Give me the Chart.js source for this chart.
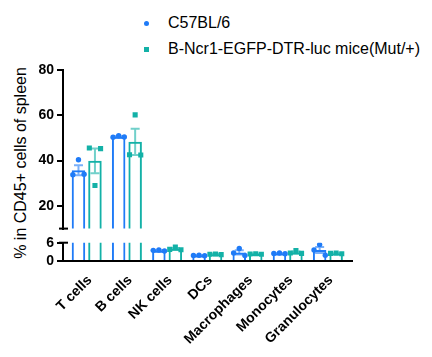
<!DOCTYPE html>
<html><head><meta charset="utf-8">
<script src="https://cdn.jsdelivr.net/npm/chart.js@4"></script>
<style>
html,body{margin:0;padding:0;background:#fff;}
body{width:432px;height:357px;position:relative;overflow:hidden;font-family:"Liberation Sans",Arial,sans-serif;color:#000;}
canvas{position:absolute;left:0;}
#top{top:0;}
#bot{top:230px;}
.txt{position:absolute;font-size:16px;line-height:16px;white-space:nowrap;}
.mk{position:absolute;width:5px;height:5px;}
#ytitle{position:absolute;left:21px;top:163px;transform:translate(-50%,-50%) rotate(-90deg);font-size:16px;line-height:16px;white-space:nowrap;}
</style>
</head><body>
<div class="mk" style="left:143.5px;top:20.5px;border-radius:50%;background:#1F7BF7"></div>
<div class="txt" style="left:168px;top:15px">C57BL/6</div>
<div class="mk" style="left:143.5px;top:46.5px;background:#13B1A7"></div>
<div class="txt" style="left:168px;top:41px">B-Ncr1-EGFP-DTR-luc mice(Mut/+)</div>
<div id="ytitle">% in CD45+ cells of spleen</div>
<canvas id="top" width="432" height="240"></canvas>
<canvas id="bot" width="432" height="127"></canvas>
<script>
const categories = ['T cells','B cells','NK cells','DCs','Macrophages','Monocytes','Granulocytes'];
const seriesNames = ['C57BL/6','B-Ncr1-EGFP-DTR-luc mice(Mut/+)'];
const c57Mean = [35.8, 50.5, 3.4, 1.8, 2.8, 2.5, 3.6];
const c57Sem  = [2.2, 0.25, 0.12, 0.06, 0.7, 0.06, 1.0];
const mutMean = [39.9, 48.3, 4.0, 2.2, 2.3, 2.8, 2.5];
const mutSem  = [5.5, 5.8, 0.3, 0.06, 0.06, 0.3, 0.06];
// individual animals: [center, left, right]
const c57Points = [[40.4,33.8,34.0],[51.0,50.3,50.4],[3.6,3.5,3.3],[1.9,1.8,1.7],[4.1,2.6,1.8],[2.6,2.5,2.4],[5.4,3.6,1.9]];
const mutPoints = [[29.0,45.6,45.3],[60.2,42.6,42.5],[4.6,3.8,3.7],[2.3,2.2,2.1],[2.4,2.3,2.2],[3.4,2.6,2.5],[2.6,2.5,2.4]];
const yTopTicks = [20,40,60,80];
const yBotTicks = [0,6];

const BLUE = '#1F7BF7', TEAL = '#13B1A7';
const BLUE_ERR = 'rgba(31,123,247,0.6)', TEAL_ERR = 'rgba(19,177,167,0.6)';
const CAT_PCT = 0.82, BAR_PCT = 0.82;
const X_MIN = -0.59, X_MAX = 6.6;
const JITTER = [0, -0.14, 0.14];
const FONT = 'Liberation Sans, Arial, sans-serif';

function barData(means){ return means.map((v,i)=>({x:i,y:v})); }
function ptData(pts, side){
  const off = side * CAT_PCT / 4;
  const out = [];
  pts.forEach((arr,i)=>arr.forEach((v,k)=>out.push({x:i+off+JITTER[k], y:v})));
  return out;
}
function datasets(){
  return [
    {type:'bar', label:seriesNames[0], data:barData(c57Mean), errors:c57Sem, errorColor:BLUE_ERR,
     backgroundColor:'rgba(255,255,255,0)', borderColor:BLUE, borderWidth:2, borderSkipped:'start',
     categoryPercentage:CAT_PCT, barPercentage:BAR_PCT, clip:0, order:2},
    {type:'bar', label:seriesNames[1], data:barData(mutMean), errors:mutSem, errorColor:TEAL_ERR,
     backgroundColor:'rgba(255,255,255,0)', borderColor:TEAL, borderWidth:2, borderSkipped:'start',
     categoryPercentage:CAT_PCT, barPercentage:BAR_PCT, clip:0, order:2},
    {type:'scatter', label:seriesNames[0]+' pts', data:ptData(c57Points,-1), pointStyle:'circle', pointRadius:2.7,
     backgroundColor:BLUE, borderWidth:0, clip:0, order:1},
    {type:'scatter', label:seriesNames[1]+' pts', data:ptData(mutPoints,1), pointStyle:'rect', pointRadius:3.6,
     backgroundColor:TEAL, borderWidth:0, clip:0, order:1}
  ];
}

const errorBars = {
  id:'errorBars',
  afterDatasetDraw(chart, args){
    const ds = chart.data.datasets[args.index];
    if(!ds.errors) return;
    const ys = chart.scales.y, a = chart.chartArea, ctx = chart.ctx;
    ctx.save();
    ctx.beginPath(); ctx.rect(a.left, a.top, a.right-a.left, a.bottom-a.top); ctx.clip();
    ctx.strokeStyle = ds.errorColor; ctx.lineWidth = 2;
    args.meta.data.forEach((el,i)=>{
      const m = ds.data[i].y, e = ds.errors[i];
      const x = el.x, yt = ys.getPixelForValue(m+e), yb = ys.getPixelForValue(m-e);
      ctx.beginPath();
      ctx.moveTo(x, yt); ctx.lineTo(x, yb);
      ctx.moveTo(x-4.5, yt); ctx.lineTo(x+4.5, yt);
      ctx.moveTo(x-4.5, yb); ctx.lineTo(x+4.5, yb);
      ctx.stroke();
    });
    ctx.restore();
  }
};
const breakCap = {
  id:'breakCap',
  afterDraw(chart, args, opts){
    const a = chart.chartArea, ctx = chart.ctx;
    const y = opts.edge === 'bottom' ? a.bottom : a.top;
    ctx.save(); ctx.strokeStyle = '#000'; ctx.lineWidth = 2;
    ctx.beginPath(); ctx.moveTo(a.left-4, y); ctx.lineTo(a.left+5, y); ctx.stroke();
    ctx.restore();
  }
};

function yScale(min, max, ticks){
  return {
    type:'linear', min, max,
    afterBuildTicks: s => { s.ticks = ticks.map(v=>({value:v})); },
    afterFit: s => { s.width = 63; },
    grid:{display:true, drawOnChartArea:false, drawTicks:true, tickLength:6, color:'#000', lineWidth:2},
    border:{display:true, color:'#000', width:2},
    ticks:{autoSkip:false, color:'#000', padding:3, font:{family:FONT, size:14, weight:'bold'}}
  };
}
const common = {
  responsive:false, animation:false,
  plugins:{legend:{display:false}, tooltip:{enabled:false}}
};

new Chart(document.getElementById('top'), {
  type:'bar',
  data:{datasets:datasets()},
  plugins:[errorBars, breakCap],
  options:Object.assign({}, common, {
    layout:{padding:{top:70, right:80, bottom:11, left:0}},
    plugins:{legend:{display:false}, tooltip:{enabled:false}, breakCap:{edge:'bottom'}},
    scales:{
      x:{type:'linear', min:X_MIN, max:X_MAX, offset:false, display:false,
         afterBuildTicks: s => { s.ticks = categories.map((c,i)=>({value:i})); }},
      y:yScale(10, 80, yTopTicks)
    }
  })
});

new Chart(document.getElementById('bot'), {
  type:'bar',
  data:{datasets:datasets()},
  plugins:[errorBars, breakCap],
  options:Object.assign({}, common, {
    layout:{padding:{top:12.7, right:80, bottom:0, left:0}},
    plugins:{legend:{display:false}, tooltip:{enabled:false}, breakCap:{edge:'top'}},
    scales:{
      x:{type:'linear', min:X_MIN, max:X_MAX, offset:false,
         afterBuildTicks: s => { s.ticks = categories.map((c,i)=>({value:i})); },
         afterFit: s => { s.height = 96; },
         grid:{display:false, drawTicks:false, offset:false},
         border:{display:true, color:'#000', width:2},
         ticks:{autoSkip:false, minRotation:45, maxRotation:45, padding:11, labelOffset:3, color:'#000',
                font:{family:FONT, size:14, weight:'bold'},
                callback: v => categories[v]}
      },
      y:yScale(0, 6, yBotTicks)
    }
  })
});
</script>
</body></html>
